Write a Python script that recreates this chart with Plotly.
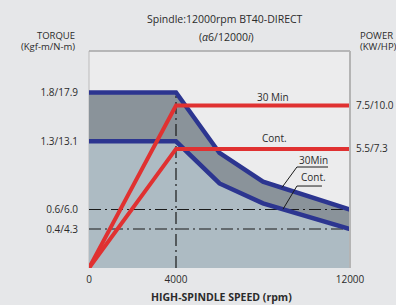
import plotly.graph_objects as go

# ---- data ----
speed = [0, 4000, 6000, 8000, 12000]
torque_30min = [1.8, 1.8, 1.18, 0.885, 0.6]
torque_cont = [1.3, 1.3, 0.867, 0.663, 0.4]
power_speed = [0, 4000, 12000]
power_30min = [0, 7.5, 7.5]
power_cont = [0, 5.5, 5.5]

torque_ticks = [1.8, 1.3, 0.6, 0.4]
torque_labels = ["1.8/17.9", "1.3/13.1", "0.6/6.0", "0.4/4.3"]
power_ticks = [7.5, 5.5]
power_labels = ["7.5/10.0", "5.5/7.3"]
speed_ticks = [0, 4000, 12000]
speed_labels = ["0", "4000", "12000"]
base_speed = 4000
max_speed = 12000

FONT = "Open Sans"
TXT = "#2b2b2b"
RED = "#e03131"
BLUE = "#2c3590"
LIGHT = "#adbbc3"
DARK = "#8a939a"
PAPER = "#e6e7e9"
DASH = "12px,4px,2px,4px"

fig = go.Figure()

# fills
fig.add_trace(go.Scatter(x=speed, y=torque_cont, mode="lines", line=dict(width=0),
                         fill="tozeroy", fillcolor=LIGHT, hoverinfo="skip", showlegend=False))
fig.add_trace(go.Scatter(x=speed, y=torque_30min, mode="lines", line=dict(width=0),
                         fill="tonexty", fillcolor=DARK, hoverinfo="skip", showlegend=False))

# dash-dot reference lines
for t in torque_ticks[2:]:
    fig.add_trace(go.Scatter(x=[0, max_speed], y=[t, t], mode="lines",
                             line=dict(color="#1a1a1a", width=1.2, dash=DASH),
                             hoverinfo="skip", showlegend=False))
fig.add_trace(go.Scatter(x=[base_speed, base_speed], y=[0, torque_30min[1]], mode="lines",
                         line=dict(color="#1a1a1a", width=1.2, dash=DASH),
                         hoverinfo="skip", showlegend=False))

# power lines (red)
fig.add_trace(go.Scatter(x=power_speed, y=power_30min, mode="lines", yaxis="y2",
                         line=dict(color=RED, width=4), showlegend=False))
fig.add_trace(go.Scatter(x=power_speed, y=power_cont, mode="lines", yaxis="y2",
                         line=dict(color=RED, width=4), showlegend=False))

# torque lines (blue)
fig.add_trace(go.Scatter(x=speed, y=torque_30min, mode="lines",
                         line=dict(color=BLUE, width=4.5), showlegend=False))
fig.add_trace(go.Scatter(x=speed, y=torque_cont, mode="lines",
                         line=dict(color=BLUE, width=4.5), showlegend=False))

shapes = [
    dict(type="line", xref="paper", yref="paper", x0=0, x1=1, y0=1, y1=1,
         line=dict(color="#a6a6a6", width=1.5), layer="above"),
    dict(type="line", xref="paper", yref="paper", x0=1, x1=1, y0=0, y1=1,
         line=dict(color="#b4b4b4", width=2), layer="above"),
    dict(type="line", xref="paper", yref="paper", x0=0, x1=0, y0=0, y1=1,
         line=dict(color="#c4c4c4", width=1.2), layer="below"),
    # leader lines for curve labels
    dict(type="line", xref="x", yref="y", x0=9560, x1=10990, y0=1.036, y1=1.036,
         line=dict(color="#1a1a1a", width=1)),
    dict(type="line", xref="x", yref="y", x0=9560, x1=8870, y0=1.036, y1=0.825,
         line=dict(color="#1a1a1a", width=1)),
    dict(type="line", xref="x", yref="y", x0=9560, x1=10710, y0=0.841, y1=0.841,
         line=dict(color="#1a1a1a", width=1)),
    dict(type="line", xref="x", yref="y", x0=9560, x1=8920, y0=0.841, y1=0.603,
         line=dict(color="#1a1a1a", width=1)),
]


def paper_text(text, x, yshift, xanchor="center", xshift=0, size=10):
    return dict(text=text, xref="paper", yref="paper", x=x, y=1.0, xshift=xshift,
                yshift=yshift, xanchor=xanchor, yanchor="middle", showarrow=False,
                font=dict(size=size, color=TXT))


ann = [
    paper_text("Spindle:12000rpm BT40-DIRECT", 0.52, 32, size=10.5),
    paper_text("(<i>α</i>6/12000<i>i</i>)", 0.525, 14, size=10.5),
    paper_text("TORQUE", 0, 15.5, xanchor="right", xshift=-12, size=9.5),
    paper_text("(Kgf-m/N-m)", 0, 4.5, xanchor="right", xshift=-12, size=9.5),
    paper_text("POWER", 1, 15.5, xanchor="left", xshift=8, size=9.5),
    paper_text("(KW/HP)", 1, 4.5, xanchor="left", xshift=8, size=9.5),
    dict(text="<b>HIGH-SPINDLE SPEED (rpm)</b>", xref="paper", yref="paper", x=0.507, y=0,
         yshift=-29, showarrow=False, yanchor="middle", font=dict(size=10.5, color=TXT)),
    dict(text="30 Min", xref="x", yref="y2", x=8460, y=power_30min[-1], yshift=9,
         showarrow=False, yanchor="middle", font=dict(size=10, color=TXT)),
    dict(text="Cont.", xref="x", yref="y2", x=8550, y=power_cont[-1], yshift=11,
         showarrow=False, yanchor="middle", font=dict(size=10, color=TXT)),
    dict(text="30Min", xref="x", yref="y", x=10300, y=1.108,
         showarrow=False, yanchor="middle", font=dict(size=10, color=TXT)),
    dict(text="Cont.", xref="x", yref="y", x=10300, y=0.933,
         showarrow=False, yanchor="middle", font=dict(size=10, color=TXT)),
]

fig.update_layout(
    width=396, height=305,
    margin=dict(l=89, r=46, t=51, b=37, autoexpand=False),
    paper_bgcolor=PAPER, plot_bgcolor="#ececed",
    font=dict(family=FONT, size=10, color=TXT),
    xaxis=dict(range=[0, max_speed], tickvals=speed_ticks, ticktext=speed_labels,
               showgrid=False, zeroline=False, showline=False, ticks="",
               ticklabelstandoff=4, automargin=False),
    yaxis=dict(range=[0, 2.226], tickvals=torque_ticks, ticktext=torque_labels,
               showgrid=False, zeroline=False, showline=False, ticks="",
               ticklabelstandoff=10, automargin=False),
    yaxis2=dict(range=[0, 10.02], tickvals=power_ticks, ticktext=power_labels,
                overlaying="y", side="right", showgrid=False, zeroline=False,
                showline=False, ticks="", ticklabelstandoff=5, automargin=False),
    shapes=shapes, annotations=ann, showlegend=False,
)

fig.write_html(
    "out.html",
    config={"displayModeBar": False},
    post_script="document.body.style.margin='0';document.body.style.overflow='hidden';"
                "document.body.style.background='" + PAPER + "';",
)
